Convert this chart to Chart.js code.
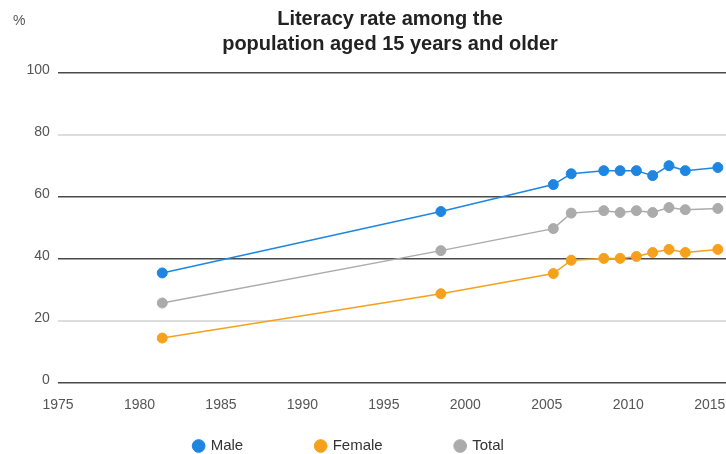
<!DOCTYPE html>
<html>
<head>
<meta charset="utf-8">
<script src="https://cdn.jsdelivr.net/npm/chart.js@4/dist/chart.umd.min.js"></script>
<style>
  html, body { margin: 0; padding: 0; background: #ffffff; }
  #wrap { width: 726px; height: 454px; }
</style>
</head>
<body>
<div id="wrap"><canvas id="c" width="726" height="454"></canvas></div>
<script>
// ---- data ----
const titleLines = ["Literacy rate among the", "population aged 15 years and older"];
const unitLabel = "%";
const years = [1981.4, 1998.5, 2005.4, 2006.5, 2008.5, 2009.5, 2010.5, 2011.5, 2012.5, 2013.5, 2015.5];
const male   = [35.5, 55.3, 64.0, 67.5, 68.5, 68.5, 68.5, 66.9, 70.1, 68.5, 69.5];
const female = [14.5, 28.8, 35.3, 39.6, 40.2, 40.2, 40.8, 42.1, 43.1, 42.1, 43.1];
const total  = [25.8, 42.7, 49.8, 54.8, 55.6, 55.0, 55.6, 55.0, 56.6, 55.9, 56.3];
const seriesNames = ["Male", "Female", "Total"];
const yTicks = [0, 20, 40, 60, 80, 100];
const xTickStart = 1975, xTickStep = 5;

const colors = { Male: "#1e86e0", Female: "#f5a11c", Total: "#ababab" };

Chart.defaults.font.family = "'Liberation Sans', Arial, sans-serif";

function pts(vals) { return vals.map((v, i) => ({ x: years[i], y: v })); }
function ds(name, vals) {
  return {
    label: name,
    data: pts(vals),
    borderColor: colors[name],
    backgroundColor: colors[name],
    pointBackgroundColor: colors[name],
    pointBorderColor: colors[name],
    borderWidth: 1.5,
    pointRadius: 5,
    pointHoverRadius: 5,
    pointBorderWidth: 1,
    tension: 0,
    pointStyle: "circle"
  };
}

const LEG_DX = -41, LEG_DY = -58.5;

const extras = {
  id: "extras",
  afterInit(chart) {
    const lg = chart.legend;
    if (lg && !lg._patched) {
      const orig = lg._draw.bind(lg);
      lg._draw = function () {
        const c = this.ctx;
        c.save();
        c.translate(LEG_DX, LEG_DY);
        orig();
        c.restore();
      };
      lg._patched = true;
    }
  },
  afterDraw(chart) {
    const c = chart.ctx;
    c.save();
    c.fillStyle = "#555";
    c.font = "14px 'Liberation Sans', Arial, sans-serif";
    c.textAlign = "left";
    c.textBaseline = "middle";
    c.fillText(unitLabel, 13, 21);
    c.restore();
  }
};

new Chart(document.getElementById("c"), {
  type: "line",
  data: {
    datasets: seriesNames.map(n => ds(n, n === "Male" ? male : n === "Female" ? female : total))
  },
  options: {
    responsive: false,
    animation: false,
    devicePixelRatio: 1,
    layout: { autoPadding: false, padding: { left: 54, right: 0, top: 0, bottom: 0 } },
    plugins: {
      title: {
        display: true,
        text: titleLines,
        color: "#222",
        font: { size: 20, weight: "bold", lineHeight: 1.25 },
        padding: { top: 7, bottom: 16 }
      },
      legend: {
        display: true,
        position: "bottom",
        maxHeight: 30,
        labels: {
          usePointStyle: true,
          pointStyle: "circle",
          boxWidth: 9,
          boxHeight: 9,
          padding: 73,
          color: "#333",
          font: { size: 15 }
        }
      },
      tooltip: { enabled: false }
    },
    scales: {
      x: {
        type: "linear",
        min: 1975,
        max: 2016,
        grid: { display: false },
        border: { display: false },
        afterBuildTicks(scale) {
          const t = [];
          for (let v = xTickStart; v <= scale.max; v += xTickStep) t.push({ value: v });
          scale.ticks = t;
        },
        ticks: {
          color: "#555",
          font: { size: 14 },
          padding: 6,
          maxRotation: 0,
          autoSkip: false,
          callback: (v) => String(v)
        },
        afterFit(scale) {
          scale.height = 41;
          scale.paddingLeft = 0;
          scale.paddingRight = 0;
        }
      },
      y: {
        min: 0,
        max: 100,
        afterBuildTicks(scale) {
          scale.ticks = yTicks.map(v => ({ value: v }));
        },
        grid: {
          drawTicks: false,
          color: (ctx) => (ctx.tick && (ctx.tick.value === 20 || ctx.tick.value === 80)) ? "#dddddd" : "#4a4a4a",
          lineWidth: (ctx) => (ctx.tick && (ctx.tick.value === 20 || ctx.tick.value === 80)) ? 2 : 1.5
        },
        border: { display: false },
        ticks: {
          color: "#555",
          font: { size: 14 },
          mirror: true,
          crossAlign: "far",
          padding: -31.5,
          labelOffset: -3,
          callback: (v) => String(v)
        },
        afterFit(scale) {
          scale.width = 4;
          scale.paddingTop = 0;
          scale.paddingBottom = 0;
        }
      }
    }
  },
  plugins: [extras]
});
</script>
</body>
</html>
